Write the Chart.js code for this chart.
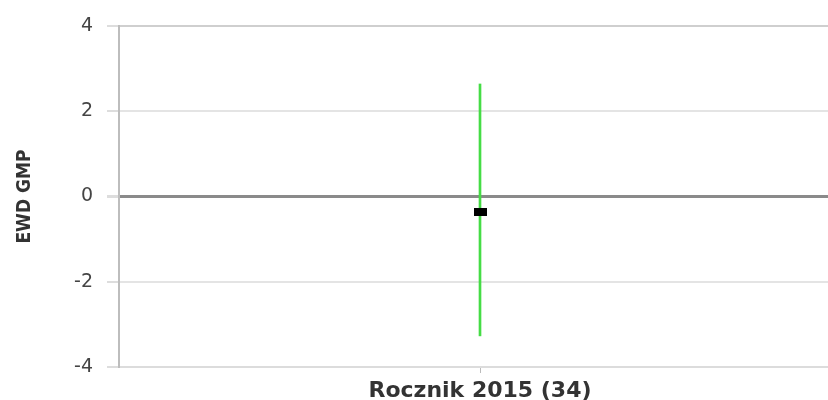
<!DOCTYPE html>
<html>
<head>
<meta charset="utf-8">
<script src="https://cdn.jsdelivr.net/npm/chart.js@4/dist/chart.umd.min.js"></script>
<style>
    html, body { margin: 0; padding: 0; background: #fff; overflow: hidden; }
    #wrap { width: 846px; height: 400px; }
</style>
</head>
<body>
<div id="wrap"><canvas id="ewdChart" width="846" height="400"></canvas></div>
<script>
// Data
const categories = ['Rocznik 2015 (34)'];
const ewdLow = [-3.27];
const ewdHigh = [2.64];
const ewdValue = [-0.36];
const yTicks = [-4, -2, 0, 2, 4];

// Black rectangle used as the point marker
const makeMarker = () => {
    const c = document.createElement('canvas');
    c.width = 13;
    c.height = 8;
    const g = c.getContext('2d');
    g.fillStyle = '#000';
    g.fillRect(0, 0, 13, 8);
    return c;
};

const ctx = document.getElementById('ewdChart').getContext('2d');
const ewdChart = new Chart(ctx, {
    type: 'bar',
    data: {
        labels: categories,
        datasets: [
            {
                type: 'line',
                label: 'EWD',
                data: ewdValue,
                pointStyle: makeMarker(),
                showLine: false,
                order: 0,
            },
            {
                label: 'Przedział',
                data: categories.map((_, i) => [ewdLow[i], ewdHigh[i]]),
                backgroundColor: '#45dc45',
                barThickness: 2,
                order: 1,
            },
        ],
    },
    options: {
        responsive: false,
        animation: false,
        layout: { padding: { top: 26, left: 0, right: 0, bottom: 0 } },
        plugins: {
            legend: { display: false },
            tooltip: { enabled: false },
        },
        scales: {
            x: {
                offset: true,
                afterFit: (s) => { s.height = 33; },
                border: { color: '#dcdcdc', width: 2 },
                grid: {
                    offset: false,
                    drawOnChartArea: false,
                    tickLength: 6,
                    tickColor: '#bbbbbb',
                },
                ticks: {
                    color: '#333',
                    padding: 5,
                    font: { family: 'DejaVu Sans', size: 22, weight: 'bold' },
                },
            },
            y: {
                min: yTicks[0],
                max: yTicks[yTicks.length - 1],
                afterBuildTicks: (s) => { s.ticks = yTicks.map(v => ({ value: v })); },
                afterFit: (s) => { s.width = 119; },
                border: { color: '#bdbdbd', width: 2 },
                grid: {
                    color: (c) => c.tick.value === 0 ? '#8a8a8a' : (c.tick.value === 4 ? '#cfcfcf' : '#e4e4e4'),
                    lineWidth: (c) => c.tick.value === 0 ? 3 : 2,
                    tickLength: 12,
                    tickColor: '#dddddd',
                },
                ticks: {
                    color: '#444',
                    padding: 14,
                    font: { family: 'DejaVu Sans', size: 19 },
                },
                title: {
                    display: true,
                    text: 'EWD GMP',
                    color: '#333',
                    padding: { top: 14, bottom: 0 },
                    font: { family: 'DejaVu Sans Condensed', size: 19, weight: 'bold' },
                },
            },
        },
    },
});
</script>
</body>
</html>
